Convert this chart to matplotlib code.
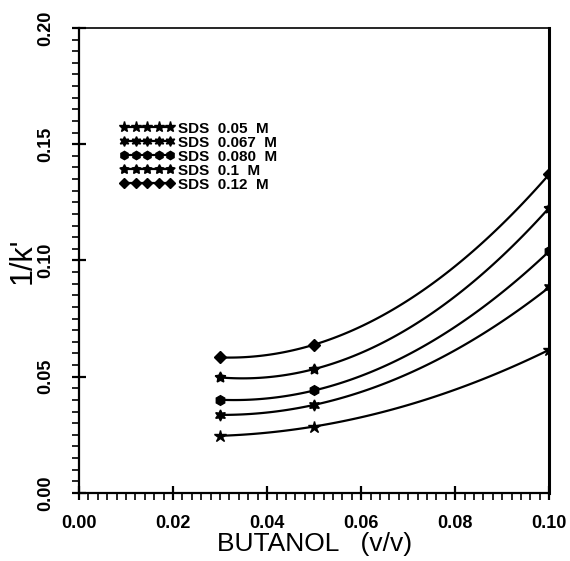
import matplotlib
matplotlib.use("Agg")
import matplotlib.pyplot as plt
from matplotlib.ticker import MultipleLocator
import numpy as np

butanol = [0.03, 0.05, 0.10]
labels = ["SDS  0.05  M", "SDS  0.067  M", "SDS  0.080  M", "SDS  0.1  M", "SDS  0.12  M"]
sds_005 = [0.0246, 0.0286, 0.0616]
sds_0067 = [0.0336, 0.0379, 0.0885]
sds_0080 = [0.0401, 0.0441, 0.1040]
sds_01 = [0.0497, 0.0533, 0.1227]
sds_012 = [0.0583, 0.0638, 0.1371]

series = [sds_005, sds_0067, sds_0080, sds_01, sds_012]
markers = ["*", (6, 1, 0), "h", (5, 1, 0), "D"]
msizes = [9, 8, 7, 8, 6]

plt.rcParams["font.family"] = ["Liberation Sans", "DejaVu Sans"]

fig = plt.figure(figsize=(5.7, 5.61), dpi=100)
ax = fig.add_axes([0.1386, 0.1212, 0.825, 0.829])

xs = np.linspace(butanol[0], butanol[-1], 100)
for ys, lab, m, ms in zip(series, labels, markers, msizes):
    coef = np.polyfit(butanol, ys, 2)
    ax.plot(xs, np.polyval(coef, xs), color="black", lw=1.6)
    ax.plot(butanol, ys, ls="none", marker=m, ms=ms, color="black")
    # legend proxy: line with a row of markers
    ax.plot([], [], color="black", lw=1.6, marker=m, ms=ms - 1, label=lab)

ax.set_xlim(0, 0.10)
ax.set_ylim(0, 0.20)
ax.xaxis.set_major_locator(MultipleLocator(0.02))
ax.xaxis.set_minor_locator(MultipleLocator(0.002))
ax.yaxis.set_major_locator(MultipleLocator(0.05))
ax.yaxis.set_minor_locator(MultipleLocator(0.005))
ax.xaxis.set_major_formatter(lambda v, p: f"{v:.2f}")
ax.yaxis.set_major_formatter(lambda v, p: f"{v:.2f}")

for s in ax.spines.values():
    s.set_linewidth(1.6)
ax.spines["right"].set_linewidth(2.2)
ax.spines["top"].set_linewidth(1.2)

ax.tick_params(which="major", direction="inout", length=10, width=1.6,
               labelsize=13)
ax.tick_params(which="minor", direction="out", length=5, width=1.2)
ax.tick_params(axis="x", which="major", pad=11)
ax.tick_params(axis="y", which="major", pad=13)
for t in ax.get_xticklabels():
    t.set_fontweight("bold")
for t in ax.get_yticklabels():
    t.set_fontweight("bold")
    t.set_rotation(90)
    t.set_va("center")

ax.set_xlabel("BUTANOL   (v/v)", fontsize=19, labelpad=0)
ax.set_ylabel("1/k'", fontsize=22)
ax.yaxis.set_label_coords(-0.088, 0.5)

leg = ax.legend(loc="upper left", bbox_to_anchor=(0.07, 0.815), frameon=False,
                numpoints=5, handlelength=3.6, handletextpad=0.25,
                labelspacing=0.0, borderpad=0,
                prop={"size": 11, "weight": "bold"})

fig.savefig("out.png", dpi=100)
